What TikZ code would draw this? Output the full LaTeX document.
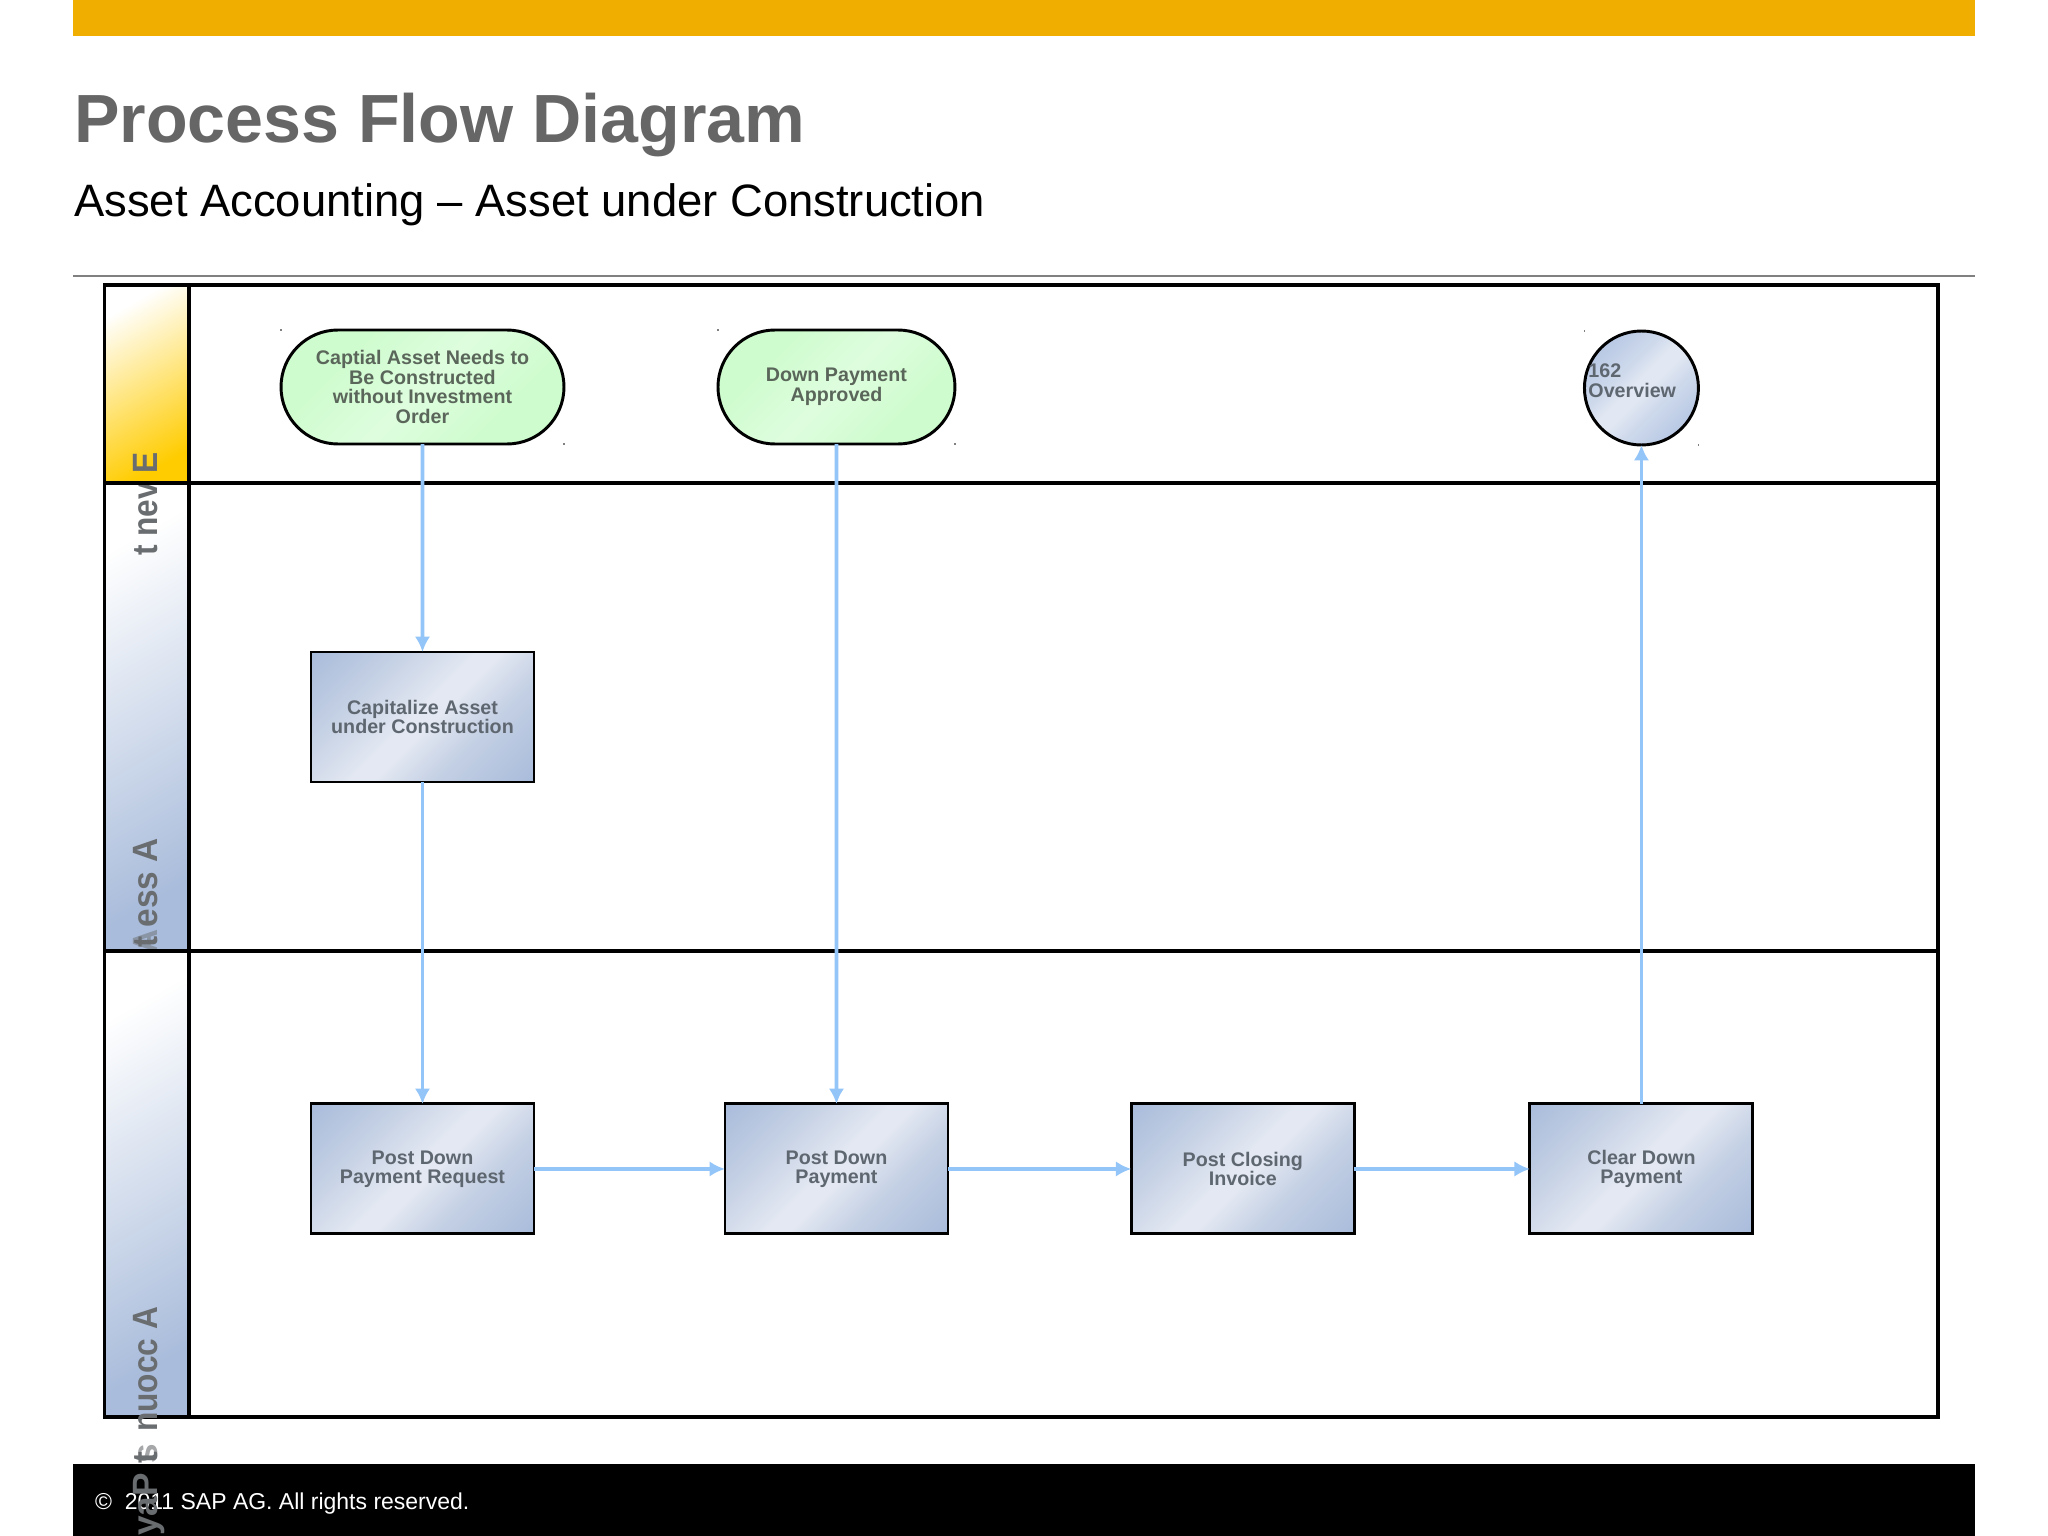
\documentclass[tikz,border=0pt]{standalone}
\usepackage{fontspec}
\setmainfont{Liberation Sans}
\usetikzlibrary{arrows.meta,positioning,shapes.misc}
\definecolor{bandyellow}{HTML}{EFAE00}
\definecolor{headblue}{HTML}{A9BCDB}
\definecolor{headyellow}{HTML}{FFCC00}
\definecolor{metalblue}{HTML}{A9BCDB}
\definecolor{metalmid}{HTML}{C4D0E4}
\definecolor{metallight}{HTML}{E3E8F2}
\definecolor{roundblue}{HTML}{B8C8E4}
\definecolor{roundmid}{HTML}{CFDAEC}
\definecolor{roundlight}{HTML}{E2E8F3}
\definecolor{startgreen}{HTML}{CEFCCE}
\definecolor{startlight}{HTML}{DEFDDE}
\definecolor{flowblue}{HTML}{93C5F9}
\definecolor{labelgrey}{HTML}{6A6D70}
\definecolor{textgrey}{HTML}{5E6670}
\definecolor{startgrey}{HTML}{5B665B}
\pgfdeclareverticalshading{metalshade}{100bp}{color(0bp)=(metalblue); color(15bp)=(metalblue); color(35bp)=(metalmid); color(47bp)=(metallight); color(52bp)=(metallight); color(68bp)=(metalmid); color(85bp)=(metalblue); color(100bp)=(metalblue)}
\pgfdeclareverticalshading{roundshade}{100bp}{color(0bp)=(roundblue); color(25bp)=(roundblue); color(40bp)=(roundmid); color(48bp)=(roundlight); color(53bp)=(roundlight); color(60bp)=(roundmid); color(75bp)=(roundblue); color(100bp)=(roundblue)}
\pgfdeclareverticalshading{startshade}{100bp}{color(0bp)=(startgreen); color(30bp)=(startgreen); color(50bp)=(startlight); color(70bp)=(startgreen); color(100bp)=(startgreen)}

\begin{document}
\begin{tikzpicture}[x=.05cm,y=-.05cm,>={Latex[length=22pt,width=22pt]}]
	\tikzset{lanehead/.style={draw=black, line width=5.5pt, outer sep=0, minimum width=4.225cm},
		lanebody/.style={draw=black, line width=5.5pt, outer sep=0, minimum width=87.45cm, fill=white},
		lanelabel/.style={rotate=90, anchor=base west, inner sep=0, text=labelgrey, font=\fontsize{50}{50}\selectfont\bfseries},
		stepbox/.style={draw=black, line width=4.2pt, outer sep=0, inner sep=0, align=center, minimum width=11.15cm, minimum height=6.5cm,
			shading=metalshade, shading angle=45, text=textgrey, font=\fontsize{28}{27.5}\selectfont\bfseries},
		startbox/.style={rounded rectangle, draw=black, line width=4.2pt, outer sep=0, inner sep=0, align=center, minimum height=5.7cm,
			shading=startshade, shading angle=45, text=startgrey, font=\fontsize{28}{27.8}\selectfont\bfseries},
		roundbox/.style={circle, draw=black, line width=4.2pt, outer sep=0, inner sep=0, minimum size=5.7cm,
			shading=roundshade, shading angle=45},
		flow/.style={->, draw=flowblue, line width=5.5pt},
		laneline/.style={draw=black, line width=5.5pt},
		speck/.style={fill=gray, minimum size=2pt, inner sep=0}
	}
	\clip (0,0) rectangle (2048,1536);
	\fill[white] (0,0) rectangle (2048,1536);
	\fill[bandyellow] (73,0) rectangle (1975,36);
	\node [anchor=base west, inner sep=0, text=black!60, font=\fontsize{97}{97}\selectfont\bfseries] (title) at (74,143) {Process Flow Diagram};
	\node [anchor=base west, inner sep=0, font=\fontsize{64.6}{64.6}\selectfont] (subtitle) at (74,217) {Asset Accounting – Asset under Construction};
	\draw [black!50, line width=1.6pt] (73,276) -- (1975,276);

	% lanes
	\node [lanehead, top color=white, bottom color=headyellow, shading angle=30, minimum height=9.9cm] (h1) at (146.75,384) {};
	\node [lanehead, top color=white, bottom color=headblue, shading angle=30, minimum height=23.4cm, below = 0cm of h1] (h2) {};
	\node [lanehead, top color=white, bottom color=headblue, shading angle=30, minimum height=23.3cm, below = 0cm of h2] (h3) {};
	\node [lanebody, minimum height=9.9cm, right = 0cm of h1] (b1) {};
	\node [lanebody, minimum height=23.4cm, right = 0cm of h2] (b2) {};
	\node [lanebody, minimum height=23.3cm, right = 0cm of h3] (b3) {};

	% footer
	\fill[black] (73,1464) rectangle (1975,1536);
	\node [anchor=base west, inner sep=0, text=white, font=\fontsize{32.7}{32.7}\selectfont] (copyright) at (95,1509) {©\ \ 2011 SAP AG. All rights reserved.};

	% side texts
	\node [lanelabel, xscale=.9] (l1) at (157,556) {t nev E};
	\node [lanelabel, xscale=.95, text opacity=.5] (l2b) at (157,954) {A};
	\node [lanelabel, xscale=.95] (l2) at (157,948) {t ess A};
	\draw [laneline] (h1.south west) -- (b1.south east);
	\draw [laneline] (h2.south west) -- (b2.south east);
	\node [lanelabel, xscale=.9] (l3) at (157,1432) {nuocc A};
	\node [lanelabel] (l3t) at (157,1464) {t};
	\node [lanelabel, text opacity=.6] (l3s) at (157,1464) {s};
	\node [lanelabel] (l3b) at (157,1536) {yaP};

	% steps
	\node [startbox, minimum width=14.15cm] (s1) at (422.5,387) {Captial Asset Needs to\\Be Constructed\\without Investment\\Order};
	\node [stepbox, below = 10.4cm of s1] (cap) {Capitalize Asset\\under Construction};
	\node [stepbox, below = 16.1cm of cap] (req) {Post Down\\Payment Request};
	\node [stepbox, right = 9.55cm of req] (pay) {Post Down\\Payment};
	\node [stepbox, right = 9.17cm of pay] (close) {Post Closing\\Invoice};
	\node [stepbox, right = 8.78cm of close] (clear) {Clear Down\\Payment};
	\node [startbox, minimum width=11.85cm, above = 33cm of pay] (s2) {Down Payment\\Approved};
	\node [roundbox, above = 32.95cm of clear] (c1) {};
	\node [inner sep=0, align=left, text=textgrey, font=\fontsize{28}{27.8}\selectfont\bfseries, xshift=-.46cm, yshift=.36cm] (c1text) at (c1) {162\\Overview};

	\foreach \n in {s1,s2,c1}{
		\node [speck] at (\n.west |- \n.north) {};
		\node [speck] at (\n.east |- \n.south) {};
	}

	\draw [flow] (s1) -- (cap);
	\draw [flow] (cap) -- (req);
	\draw [flow] (s2) -- (pay);
	\draw [flow] (req) -- (pay);
	\draw [flow] (pay) -- (close);
	\draw [flow] (close) -- (clear);
	\draw [flow] (clear) -- (c1);
\end{tikzpicture}
\end{document}
